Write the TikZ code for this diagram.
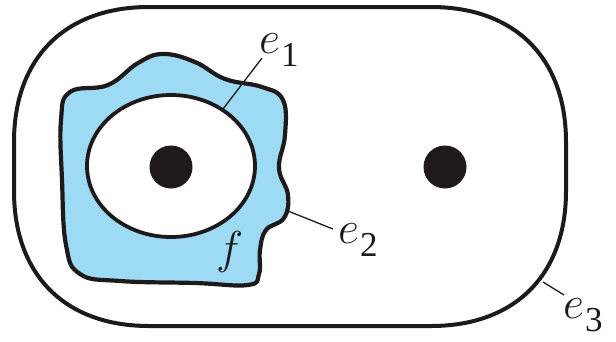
\RequirePackage{fix-cm}
\documentclass[tikz,border=0pt]{standalone}
\usepackage{fontspec}
\setmainfont{Liberation Serif}
\definecolor{faceblue}{RGB}{157,219,245}
\definecolor{ink}{RGB}{30,26,27}
\newcommand{\elab}[2]{{\fontsize{46}{46}\selectfont$#1$}\kern1pt\raisebox{-13pt}{\fontsize{35}{35}\selectfont #2}}
\begin{document}
\begin{tikzpicture}[x=1pt,y=-1pt,
  outerline/.style={draw=ink,line width=4pt},
  blobline/.style={draw=ink,line width=4.2pt,fill=faceblue,line join=round},
  holeline/.style={draw=ink,line width=3.8pt,fill=white},
  pointdot/.style={circle,fill=ink,inner sep=0pt,minimum size=43pt},
  leader/.style={draw=ink,line width=1.3pt},
  lab/.style={inner sep=0pt,anchor=base west,text=ink}]
\useasboundingbox (0,0) rectangle (616,341);
% outer curve e3
\draw[outerline] (149,7) -- (431,7) .. controls (515,7) and (566,58) .. (566,142)
  -- (566,191) .. controls (566,275) and (515,326) .. (431,326)
  -- (149,326) .. controls (65,326) and (14,275) .. (14,191)
  -- (14,142) .. controls (14,58) and (65,7) .. cycle;
% face f
\draw[blobline] plot[smooth cycle,tension=0.7] coordinates {
 (70,92) (108,85) (138,63) (163,54) (195,62) (225,79) (262,87) (283,100)
 (285,135) (279,168) (288,195) (284,218) (266,230) (260,250) (259,274)
 (248,285) (195,283) (120,281) (80,274) (66,245) (62,180) (61,120)};
% inner curve e1
\draw[holeline] (171,166) ellipse [x radius=84, y radius=71];
% punctures
\node[pointdot] (p1) at (171,167) {};
\node[pointdot] (p2) at (445,167) {};
% labels
\node[lab] (l1) at (259,53) {\elab{e}{1}};
\node[lab] (l2) at (338,243) {\elab{e}{2}};
\node[lab] (l3) at (563,318) {\elab{e}{3}};
\node[lab] (lf) at (216,263) {{\fontsize{46}{46}\selectfont$f$}};
% leaders
\coordinate (a1) at (223,109);
\coordinate (b1) at (262,58);
\coordinate (a2) at (288,211);
\coordinate (b2) at (333,229);
\coordinate (a3) at (543,282);
\coordinate (b3) at (564,295);
\draw[leader] (a1) -- (b1);
\draw[leader] (a2) -- (b2);
\draw[leader] (a3) -- (b3);
\end{tikzpicture}
\end{document}
